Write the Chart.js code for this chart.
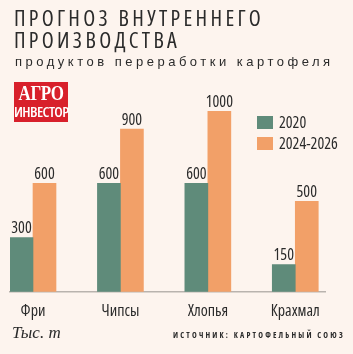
<!DOCTYPE html>
<html>
<head>
<meta charset="utf-8">
<script src="https://cdn.jsdelivr.net/npm/chart.js@4"></script>
<style>
  body { margin: 0; background: #fdf4ee; }
  #wrap { position: relative; width: 353px; height: 354px; background: #fdf4ee; overflow: hidden; }
  #chart { position: absolute; left: 0; top: 0; }
  .title { position: absolute; left: 14px; top: 6px; font: 500 22px/22px "Open Sans", sans-serif; font-stretch: 82%;
           letter-spacing: 3.3px; color: #2b2b2b; }
  .sub { position: absolute; left: 15px; top: 54px; font: 13px "Liberation Sans", sans-serif;
         letter-spacing: 3.5px; color: #2b2b2b; }
  .logo { position: absolute; left: 14px; top: 82px; width: 54px; height: 40px; background: #d8202b;
          color: #fff; text-align: center; }
  .logo .a { font: bold 20px/19px "Liberation Serif", serif; display: block; margin-top: 2px; transform: scaleX(0.85); letter-spacing: -0.5px; }
  .logo .b { font: 600 15px/16px "Open Sans", sans-serif; font-stretch: 75%; display: block; letter-spacing: -0.6px; }
  .unit { position: absolute; left: 12px; top: 323px; font: italic 17px "Liberation Serif", serif; color: #2b2b2b; }
  .src { position: absolute; right: 8px; top: 329px; font: 700 8px "Open Sans", sans-serif; font-stretch: 75%;
         letter-spacing: 2.2px; color: #2b2b2b; }
</style>
</head>
<body>
<div id="wrap">
  <canvas id="chart" width="353" height="354"></canvas>
  <div class="title">ПРОГНОЗ ВНУТРЕННЕГО<br>ПРОИЗВОДСТВА</div>
  <div class="sub">продуктов переработки картофеля</div>
  <div class="logo"><span class="a">АГРО</span><span class="b">ИНВЕСТОР</span></div>
  <div class="unit">Тыс. т</div>
  <div class="src">ИСТОЧНИК: КАРТОФЕЛЬНЫЙ СОЮЗ</div>
</div>
<script>
// Data.
var categories = ["Фри", "Чипсы", "Хлопья", "Крахмал"];
var seriesNames = ["2020", "2024-2026"];
var values2020 = [300, 600, 600, 150];
var values2026 = [600, 900, 1000, 500];

var green = "#5f8b7a";
var orange = "#f2a068";
var textColor = "#2b2b2b";
var narrow = 'condensed 16px "Open Sans", sans-serif';

function points(vals) {
    return vals.map(function (v, i) { return { x: i, y: v }; });
}

// Numbers above bars.
var valueLabels = {
    id: "valueLabels",
    afterDatasetsDraw: function (chart) {
        var ctx = chart.ctx;
        ctx.save();
        ctx.font = narrow;
        ctx.fillStyle = textColor;
        ctx.textAlign = "center";
        ctx.textBaseline = "bottom";
        chart.data.datasets.forEach(function (ds, d) {
            chart.getDatasetMeta(d).data.forEach(function (bar, i) {
                ctx.fillText(ds.data[i].y, bar.x, bar.y - 1);
            });
        });
        ctx.restore();
    }
};

// Legend in the upper right of the plot.
var boxLegend = {
    id: "boxLegend",
    afterDraw: function (chart) {
        var ctx = chart.ctx;
        var x = chart.chartArea.right - 68;
        var y = chart.chartArea.top + 5;
        ctx.save();
        ctx.font = narrow;
        ctx.textBaseline = "middle";
        chart.data.datasets.forEach(function (ds, d) {
            ctx.fillStyle = ds.backgroundColor;
            ctx.fillRect(x, y + d * 21, 16, 13);
            ctx.fillStyle = textColor;
            ctx.fillText(ds.label, x + 22, y + d * 21 + 7);
        });
        ctx.restore();
    }
};

new Chart(document.getElementById("chart"), {
    type: "bar",
    data: {
        datasets: [
            { label: seriesNames[0], data: points(values2020), backgroundColor: green },
            { label: seriesNames[1], data: points(values2026), backgroundColor: orange }
        ]
    },
    options: {
        responsive: false,
        animation: false,
        barThickness: 23,
        layout: { padding: { left: 10, right: 28, top: 111, bottom: 31 } },
        plugins: { legend: { display: false }, tooltip: { enabled: false } },
        scales: {
            x: {
                type: "linear",
                offset: false,
                min: -0.263,
                max: 3.34,
                afterBuildTicks: function (axis) {
                    axis.ticks = categories.map(function (c, i) { return { value: i }; });
                },
                ticks: {
                    padding: 2,
                    color: textColor,
                    font: { family: '"Open Sans", sans-serif', size: 16, weight: "condensed" },
                    callback: function (v) { return categories[v]; }
                },
                grid: { display: false },
                border: { color: "#b9b3ae", width: 1.5 }
            },
            y: { display: false, min: 0, max: 1000 }
        }
    },
    plugins: [valueLabels, boxLegend]
});
</script>
</body>
</html>
